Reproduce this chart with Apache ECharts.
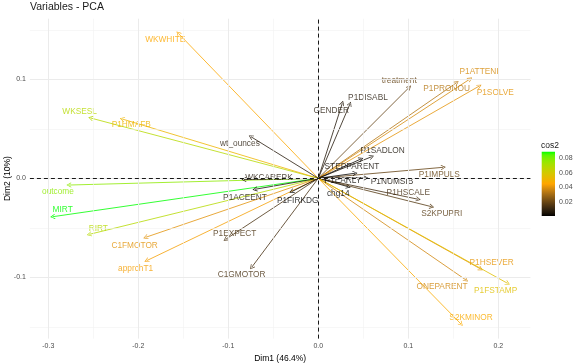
<!DOCTYPE html>
<html><head><meta charset="utf-8">
<script src="https://cdn.jsdelivr.net/npm/echarts@6/dist/echarts.min.js"></script>
<style>html,body{margin:0;padding:0;background:#fff}#c{width:581px;height:363px}</style>
</head><body><div id="c"></div>
<script>
// ---- data ----
const variables = ['WKWHITE','WKSESL','P1HMAFB','wt_ounces','outcome','MIRT','RIRT','C1FMOTOR','apprchT1','P1EXPECT','C1GMOTOR','P1ACEENT','WKCAREPK','P1FIRKDG','GENDER','P1DISABL','treatment','P1ATTENI','P1PRONOU','P1SOLVE','P1SADLON','STEPPARENT','P1IMPULS','P1EARLY','P1NUMSIB','chg14','P1HSCALE','S2KPUPRI','P1HSEVER','ONEPARENT','P1FSTAMP','S2KMINOR'];
const dim1 = [-0.1556,-0.2529,-0.2178,-0.0748,-0.2770,-0.2951,-0.2544,-0.1918,-0.1907,-0.1029,-0.0740,-0.0703,-0.0826,-0.0296,0.0267,0.0352,0.1011,0.1686,0.1537,0.1789,0.0593,0.0474,0.1389,0.0408,0.0530,0.0333,0.1111,0.1260,0.1804,0.1641,0.2104,0.1586];
const dim2 = [0.1465,0.0609,0.0599,0.0420,-0.0068,-0.0388,-0.0566,-0.0596,-0.0832,-0.0616,-0.0899,-0.0111,-0.0012,-0.0135,0.0758,0.0750,0.0919,0.1003,0.0966,0.0932,0.0218,0.0195,0.0111,0.0051,0.0003,-0.0085,-0.0212,-0.0287,-0.0916,-0.1027,-0.1061,-0.1472];
const xTicks = [-0.3,-0.2,-0.1,0.0,0.1,0.2];
const yTicks = [-0.1,0.0,0.1];
const xMinor = [-0.25,-0.15,-0.05,0.05,0.15];
const yMinor = [-0.15,-0.05,0.05,0.15];
const legendTicks = [0.02,0.04,0.06,0.08];

// ---- label layout (pixel nudges from arrow tip) ----
const labelNudge = {WKWHITE:[-13,6],WKSESL:[-11,-6],P1HMAFB:[9,6],wt_ounces:[-11,7],outcome:[-11,7],MIRT:[10,-7],RIRT:[9,-6],C1FMOTOR:[-11,8],apprchT1:[-11,8],P1EXPECT:[9,-6],C1GMOTOR:[-10,7],P1ACEENT:[-10,8],WKCAREPK:[25,-2],P1FIRKDG:[6,9],GENDER:[-11,7],P1DISABL:[18,-6],treatment:[-10,-7],P1ATTENI:[9,-7],P1PRONOU:[-10,6],P1SOLVE:[16,7],P1SADLON:[11,-6],STEPPARENT:[-9,8],P1IMPULS:[-4,7],P1EARLY:[-12,7],P1NUMSIB:[26,4],chg14:[-10,7],P1HSCALE:[-10,-7],S2KPUPRI:[10,7],P1HSEVER:[11,-6],ONEPARENT:[-24,7],P1FSTAMP:[-12,7],S2KMINOR:[10,-6]};

// ---- colour scale (black -> orange -> green, Lab interpolation) ----
function lin(c){c/=255;return c<=0.04045?c/12.92:Math.pow((c+0.055)/1.055,2.4);}
function unlin(c){c=c<=0.0031308?12.92*c:1.055*Math.pow(c,1/2.4)-0.055;return Math.max(0,Math.min(255,Math.round(c*255)));}
function toLab(h){const r=lin(parseInt(h.substr(1,2),16)),g=lin(parseInt(h.substr(3,2),16)),b=lin(parseInt(h.substr(5,2),16));
 let X=(0.4124*r+0.3576*g+0.1805*b)/0.95047,Y=0.2126*r+0.7152*g+0.0722*b,Z=(0.0193*r+0.1192*g+0.9505*b)/1.08883;
 const f=t=>t>0.008856?Math.cbrt(t):7.787*t+16/116;const fx=f(X),fy=f(Y),fz=f(Z);return [116*fy-16,500*(fx-fy),200*(fy-fz)];}
function fromLab(L,a,b){const fy=(L+16)/116,fx=fy+a/500,fz=fy-b/200;const fi=t=>t*t*t>0.008856?t*t*t:(t-16/116)/7.787;
 const X=fi(fx)*0.95047,Y=fi(fy),Z=fi(fz)*1.08883;
 const r=3.2406*X-1.5372*Y-0.4986*Z,g=-0.9689*X+1.8758*Y+0.0415*Z,bb=0.0557*X-0.2040*Y+1.0570*Z;
 return 'rgb('+unlin(r)+','+unlin(g)+','+unlin(bb)+')';}
const stops=['#000000','#FFA500','#00FF00'].map(toLab);
const cos2 = dim1.map((x,i)=>x*x+dim2[i]*dim2[i]);
const cmin=Math.min(...cos2), cmax=Math.max(...cos2);
function colorAt(t){t=Math.max(0,Math.min(1,t));const s=t*(stops.length-1);const i=Math.min(stops.length-2,Math.floor(s));const u=s-i;
 const A=stops[i],B=stops[i+1];return fromLab(A[0]+(B[0]-A[0])*u,A[1]+(B[1]-A[1])*u,A[2]+(B[2]-A[2])*u);}
const colorOf=v=>colorAt((v-cmin)/(cmax-cmin));

// ---- axis ranges (5% expansion like ggplot) ----
function expand(arr){const lo=Math.min(0,...arr),hi=Math.max(0,...arr),d=(hi-lo)*0.05;return [lo-d,hi+d];}
const xr=expand(dim1), yr=expand(dim2);

const FONT='"Liberation Sans", Arial, sans-serif';
const chart=echarts.init(document.getElementById('c'),null,{renderer:'canvas'});

const gridLines=[];
xMinor.forEach(v=>gridLines.push({xAxis:v,lineStyle:{color:'#F2F2F2',width:0.6,type:'solid'}}));
yMinor.forEach(v=>gridLines.push({yAxis:v,lineStyle:{color:'#F2F2F2',width:0.6,type:'solid'}}));
xTicks.forEach(v=>gridLines.push({xAxis:v,lineStyle:{color:'#EBEBEB',width:1,type:'solid'}}));
yTicks.forEach(v=>gridLines.push({yAxis:v,lineStyle:{color:'#EBEBEB',width:1,type:'solid'}}));
gridLines.push({xAxis:0,lineStyle:{color:'#000',width:0.9,type:[4,3]}});
gridLines.push({yAxis:0,lineStyle:{color:'#000',width:0.9,type:[4,3]}});

const arrowPath='path://M5,0 L10,8.66 L9,9.4 L5,2.2 L1,9.4 L0,8.66 Z';
const arrows=variables.map((n,i)=>({name:n,coords:[[0,0],[dim1[i],dim2[i]]],lineStyle:{color:colorOf(cos2[i])}}));
const labels=variables.map((n,i)=>({name:n,value:[dim1[i],dim2[i]],label:{color:colorOf(cos2[i]),offset:labelNudge[n]||[0,0]}}));

const gradStops=[];for(let k=0;k<=20;k++){gradStops.push({offset:1-k/20,color:colorAt(k/20)});}

const fmt=v=>(Math.abs(v)<1e-9?0:v).toFixed(1);

chart.setOption({
 animation:false,
 backgroundColor:'#fff',
 title:[{text:'Variables - PCA',left:30,top:2,padding:0,textStyle:{fontFamily:FONT,fontSize:10.5,fontWeight:'normal',color:'#1A1A1A'}},
        {text:'cos2',left:541,top:141,padding:0,textStyle:{fontFamily:FONT,fontSize:8.5,fontWeight:'normal',color:'#1A1A1A'}}],
 graphic:[{type:'text',x:8,y:178.6,rotation:Math.PI/2,silent:true,
           style:{text:'Dim2 (10%)',fontFamily:FONT,fontSize:8.5,fill:'#000',align:'center',verticalAlign:'middle'}}],
 grid:[{left:29.9,top:18.7,width:500.5,height:319.9,show:false,containLabel:false,outerBoundsMode:'none'},
       {left:541.7,top:151.7,width:13.3,height:64.3,show:false,containLabel:false,outerBoundsMode:'none'}],
 xAxis:[{type:'value',gridIndex:0,min:xr[0],max:xr[1],
         name:'Dim1 (46.4%)',nameLocation:'middle',nameGap:15.5,nameMoveOverlap:false,nameTextStyle:{fontFamily:FONT,fontSize:8.5,color:'#000'},
         axisLine:{show:false},splitLine:{show:false},
         axisTick:{show:true,customValues:xTicks,length:2.5,lineStyle:{color:'#333',width:0.6}},
         axisLabel:{customValues:xTicks,formatter:fmt,fontFamily:FONT,fontSize:7,color:'#4D4D4D',margin:4}},
        {type:'category',gridIndex:1,data:['c'],show:false}],
 yAxis:[{type:'value',gridIndex:0,min:yr[0],max:yr[1],
         axisLine:{show:false},splitLine:{show:false},
         axisTick:{show:true,customValues:yTicks,length:2.5,lineStyle:{color:'#333',width:0.6}},
         axisLabel:{customValues:yTicks,formatter:fmt,fontFamily:FONT,fontSize:7,color:'#4D4D4D',margin:4}},
        {type:'value',gridIndex:1,min:cmin,max:cmax,position:'right',
         axisLine:{show:false},splitLine:{show:false},
         axisTick:{show:true,inside:true,customValues:legendTicks,length:2.5,lineStyle:{color:'#fff',width:0.8}},
         axisLabel:{customValues:legendTicks,formatter:v=>v.toFixed(2),fontFamily:FONT,fontSize:7,color:'#4D4D4D',margin:4}},
        {type:'value',gridIndex:1,min:cmin,max:cmax,position:'left',
         axisLine:{show:false},splitLine:{show:false},axisLabel:{show:false},
         axisTick:{show:true,inside:true,customValues:legendTicks,length:2.5,lineStyle:{color:'#fff',width:0.8}}}],
 series:[
  {type:'scatter',xAxisIndex:0,yAxisIndex:0,data:[[0,0]],symbolSize:0,silent:true,z:1,
   markLine:{silent:true,symbol:['none','none'],label:{show:false},data:gridLines,animation:false}},
  {type:'lines',coordinateSystem:'cartesian2d',xAxisIndex:0,yAxisIndex:0,z:3,
   symbol:['none',arrowPath],symbolSize:5,lineStyle:{width:0.8,opacity:1},data:arrows,silent:true},
  {type:'scatter',xAxisIndex:0,yAxisIndex:0,z:4,symbolSize:1,itemStyle:{color:'transparent'},silent:true,
   label:{show:true,position:'inside',formatter:p=>p.name,fontFamily:FONT,fontSize:8.3,align:'center',verticalAlign:'middle'},
   data:labels},
  {type:'bar',xAxisIndex:1,yAxisIndex:1,stack:'cb',barWidth:'100%',data:[cmin],itemStyle:{color:'transparent'},silent:true,z:1},
  {type:'bar',xAxisIndex:1,yAxisIndex:1,stack:'cb',barWidth:'100%',data:[cmax-cmin],silent:true,z:1,
   itemStyle:{color:new echarts.graphic.LinearGradient(0,0,0,1,gradStops)}}
 ]
});
</script></body></html>
